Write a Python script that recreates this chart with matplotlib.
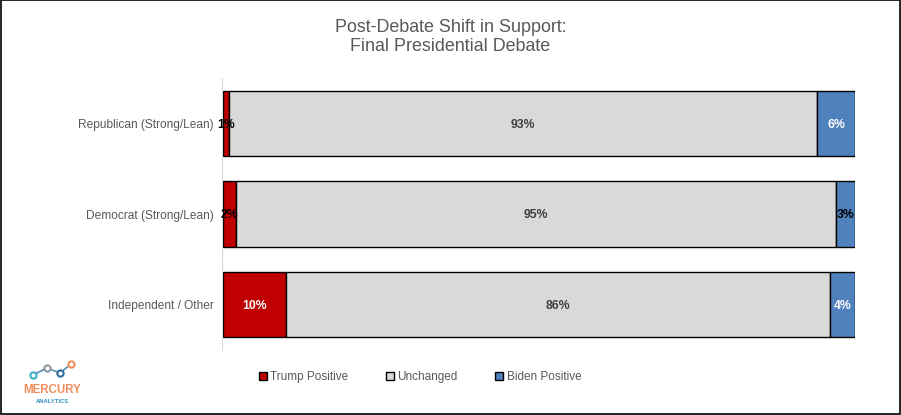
import matplotlib
matplotlib.use("Agg")
import matplotlib.pyplot as plt
from matplotlib.patches import Rectangle
import numpy as np

plt.rcParams['font.family'] = ['Liberation Sans', 'DejaVu Sans']

categories = ["Republican (Strong/Lean)", "Democrat (Strong/Lean)", "Independent / Other"]
series_names = ["Trump Positive", "Unchanged", "Biden Positive"]
trump_positive = [1, 2, 10]
unchanged = [93, 95, 86]
biden_positive = [6, 3, 4]
colors = ["#C00000", "#D9D9D9", "#4F81BD"]
label_colors = [["#000000", "#000000", "#FFFFFF"],
                ["#404040", "#404040", "#404040"],
                ["#FFFFFF", "#000000", "#FFFFFF"]]

fig = plt.figure(figsize=(9.01, 4.15), dpi=100)
ax = fig.add_axes([223/901, 1-350/415, 632/901, 272/415])

y = np.arange(len(categories))
left = np.zeros(len(categories))
for si, (name, vals) in enumerate(zip(series_names, [trump_positive, unchanged, biden_positive])):
    ax.barh(y, vals, left=left, height=0.72, color=colors[si],
            edgecolor="black", linewidth=1.0, label=name)
    for i, v in enumerate(vals):
        ax.text(left[i] + v/2, y[i] + 0.015, f"{v}%", ha="center", va="center",
                fontsize=8.8, fontweight="bold", color=label_colors[si][i])
    left = left + np.array(vals)

ax.set_xlim(0, 100)
ax.set_ylim(2.5, -0.5)
ax.tick_params(axis="y", length=0, pad=6, labelsize=8.6, labelcolor="#595959")
ax.set_yticks(y)
ax.set_yticklabels(categories)
ax.set_xticks([])
for s in ["top", "right", "bottom"]:
    ax.spines[s].set_visible(False)
ax.spines["left"].set_color("#D9D9D9")
ax.spines["left"].set_position(("outward", 1))

fig.text(0.5, 1-27/415, "Post-Debate Shift in Support:", ha="center", va="center",
         fontsize=12.9, color="#595959")
fig.text(0.5, 1-46.5/415, "Final Presidential Debate", ha="center", va="center",
         fontsize=12.9, color="#595959")

leg = fig.legend(loc="center", bbox_to_anchor=(420/901, 1-377/415), ncol=3, frameon=False,
                 fontsize=8.5, handlelength=0.7, handleheight=0.7, handletextpad=0.3,
                 columnspacing=3.15)
for t in leg.get_texts():
    t.set_color("#595959")

# logo
lx = [33, 47, 60, 71]
ly = [375, 368, 373, 364]
lax = fig.add_axes([0, 0, 1, 1], facecolor="none")
lax.set_xlim(0, 901); lax.set_ylim(415, 0); lax.axis("off")
lax.plot(lx, ly, color="#5A8FB0", lw=1.2, zorder=1)
for (xx, yy), c in zip(zip(lx, ly), ["#3AB0C8", "#8A9AA5", "#2E6C9A", "#F28C5A"]):
    lax.scatter([xx], [yy], s=20, facecolor="white", edgecolor=c, linewidth=1.5, zorder=2)
lax.text(52, 390, "MERCURY", ha="center", va="center", fontsize=8.3, fontweight="bold",
         color="#F28C5A")
lax.text(52, 401, "ANALYTICS", ha="center", va="center", fontsize=4.2, fontweight="bold",
         color="#2E8FBF")
# border
lax.add_patch(Rectangle((0.5, 0.5), 899, 413, fill=False, edgecolor="black", lw=1.2))

fig.savefig("out.png", dpi=100, facecolor="white")
